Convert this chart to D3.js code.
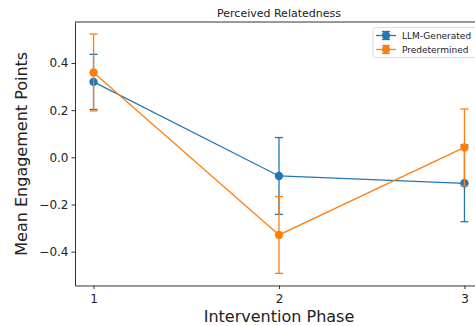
<!DOCTYPE html>
<meta charset="utf-8">
<script src="https://d3js.org/d3.v7.min.js"></script>
<style>
  body { margin: 0; background: #fff; }
  text { font-family: "DejaVu Sans", sans-serif; fill: #222; }
</style>
<body>
<script>
  var phases = [1, 2, 3];
  var llmMean = [0.32, -0.079, -0.11];
  var llmErr = [0.117, 0.163, 0.163];
  var predMean = [0.36, -0.329, 0.042];
  var predErr = [0.163, 0.163, 0.163];
  var yTicks = [-0.4, -0.2, 0.0, 0.2, 0.4];

  var series = [
    { name: "LLM-Generated", color: "#1f77b4", mean: llmMean, err: llmErr },
    { name: "Predetermined", color: "#ff7f0e", mean: predMean, err: predErr }
  ];

  var W = 475, H = 326;
  var plotLeft = 75, plotTop = 22, plotRight = 483, plotBottom = 285.5;

  var svg = d3.select("body").append("svg")
    .attr("width", W)
    .attr("height", H);

  var x = d3.scaleLinear().domain([0.9, 3.1]).range([plotLeft, plotRight]);
  var y = d3.scaleLinear().domain([-0.5435, 0.574]).range([plotBottom, plotTop]);

  // axes
  var xAxis = svg.append("g")
    .attr("transform", "translate(0," + plotBottom + ")")
    .call(d3.axisBottom(x).tickValues(phases).tickFormat(d3.format("d")).tickSize(3.5).tickSizeOuter(0));
  var yAxis = svg.append("g")
    .attr("transform", "translate(" + plotLeft + ",0)")
    .call(d3.axisLeft(y).tickValues(yTicks).tickFormat(d => d3.format(".1f")(d).replace("-", "\u2212")).tickSize(3.5).tickSizeOuter(0));
  [xAxis, yAxis].forEach(function (g) {
    g.select(".domain").attr("stroke", "#333").attr("stroke-width", 1);
    g.selectAll(".tick line").attr("stroke", "#333");
    g.selectAll(".tick text").style("font-size", "12px").attr("fill", "#222");
  });
  xAxis.selectAll(".tick text").attr("dy", "0.9em");
  // top spine
  svg.append("line").attr("x1", plotLeft).attr("x2", plotRight).attr("y1", plotTop).attr("y2", plotTop)
    .attr("stroke", "#333");

  // series
  series.forEach(function (s) {
    var g = svg.append("g");
    var line = d3.line().x((d, i) => x(phases[i])).y(d => y(d));
    g.append("path").datum(s.mean)
      .attr("d", line)
      .attr("fill", "none")
      .attr("stroke", s.color)
      .attr("stroke-width", 1.3);
    s.mean.forEach(function (m, i) {
      var cx = x(phases[i]);
      var lo = y(m - s.err[i]), hi = y(m + s.err[i]);
      g.append("line").attr("x1", cx).attr("x2", cx).attr("y1", lo).attr("y2", hi)
        .attr("stroke", s.color).attr("stroke-width", 1.3);
      [lo, hi].forEach(function (yy) {
        g.append("line").attr("x1", cx - 4).attr("x2", cx + 4).attr("y1", yy).attr("y2", yy)
          .attr("stroke", s.color).attr("stroke-width", 1.3);
      });
      g.append("circle").attr("cx", cx).attr("cy", y(m)).attr("r", 4.2).attr("fill", s.color);
    });
  });

  // title and labels
  svg.append("text").attr("x", (plotLeft + plotRight) / 2).attr("y", 17)
    .attr("text-anchor", "middle").style("font-size", "11px").text("Perceived Relatedness");
  svg.append("text").attr("x", (plotLeft + plotRight) / 2).attr("y", 322)
    .attr("text-anchor", "middle").style("font-size", "16px").text("Intervention Phase");
  svg.append("text").attr("transform", "translate(27," + (plotTop + plotBottom) / 2 + ") rotate(-90)")
    .attr("text-anchor", "middle").style("font-size", "16px").text("Mean Engagement Points");

  // legend
  var lg = svg.append("g").attr("transform", "translate(373,27.5)");
  lg.append("rect").attr("width", 110).attr("height", 30).attr("rx", 2)
    .attr("fill", "#fff").attr("fill-opacity", 0.8).attr("stroke", "#ddd");
  series.forEach(function (s, i) {
    var yy = 8 + i * 14;
    lg.append("line").attr("x1", 3).attr("x2", 23).attr("y1", yy).attr("y2", yy)
      .attr("stroke", s.color).attr("stroke-width", 1.3);
    lg.append("line").attr("x1", 13).attr("x2", 13).attr("y1", yy - 4).attr("y2", yy + 4)
      .attr("stroke", s.color).attr("stroke-width", 1.3);
    [yy - 4, yy + 4].forEach(function (cy) {
      lg.append("line").attr("x1", 9).attr("x2", 17).attr("y1", cy).attr("y2", cy)
        .attr("stroke", s.color).attr("stroke-width", 1.3);
    });
    lg.append("circle").attr("cx", 13).attr("cy", yy).attr("r", 4).attr("fill", s.color);
    lg.append("text").attr("x", 29).attr("y", yy + 3).style("font-size", "9px").text(s.name);
  });
</script>
</body>
